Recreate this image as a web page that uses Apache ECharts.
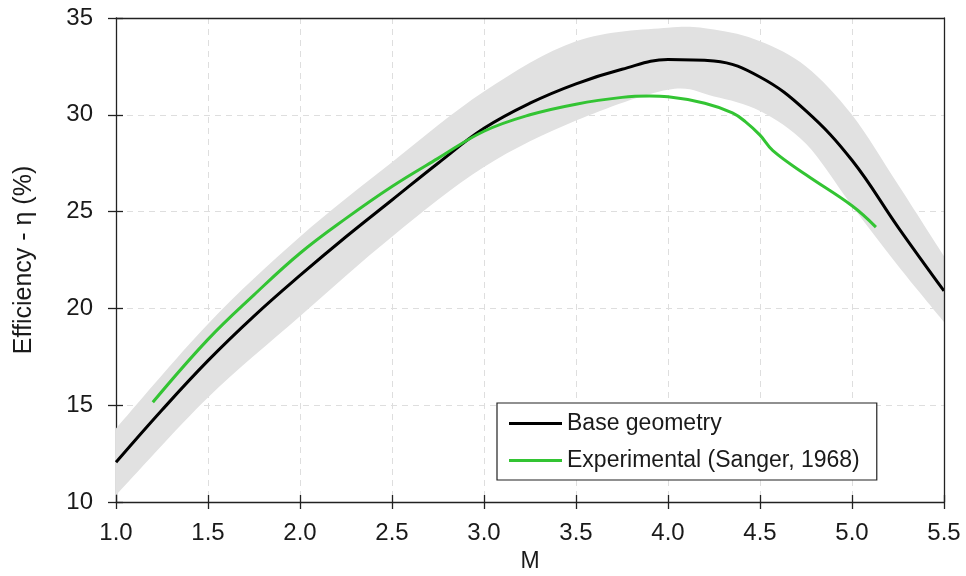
<!DOCTYPE html>
<html lang="en">
<head>
    <meta charset="UTF-8">
    <title>Efficiency vs M</title>
    <script src="https://cdn.jsdelivr.net/npm/echarts@6/dist/echarts.min.js"></script>
    <style>
        html, body { margin: 0; padding: 0; background: #fff; }
        #main { width: 966px; height: 576px; }
    </style>
</head>
<body>
<div id="main"></div>
<script type="text/javascript">
    // base geometry curve
    var baseM   = [1.0, 1.25, 1.5, 1.75, 2.0, 2.25, 2.5, 2.75, 3.0, 3.25, 3.5, 3.75, 4.0, 4.25, 4.5, 4.75, 5.0, 5.25, 5.5];
    var baseEta = [12.05, 14.75, 17.3, 19.6, 21.7, 23.7, 25.6, 27.5, 29.3, 30.6, 31.6, 32.35, 32.86, 32.78, 31.95, 30.2, 27.65, 24.2, 20.9];

    // experimental (Sanger, 1968)
    var expM   = [1.2, 1.5, 1.75, 2.0, 2.25, 2.5, 2.75, 3.0, 3.25, 3.5, 3.75, 3.9, 4.0, 4.2, 4.35, 4.42, 4.5, 4.57, 4.75, 5.0, 5.13];
    var expEta = [15.15, 18.4, 20.7, 22.85, 24.65, 26.3, 27.75, 29.15, 30.0, 30.55, 30.9, 30.97, 30.93, 30.6, 30.1, 29.65, 28.95, 28.15, 26.9, 25.3, 24.2];

    // uncertainty band around base geometry
    var bandM     = [1.0, 1.5, 2.0, 2.5, 3.0, 3.5, 4.0, 4.25, 4.5, 4.75, 5.0, 5.25, 5.5];
    var bandLower = [10.35, 15.4, 19.6, 23.7, 27.3, 29.7, 31.3, 30.95, 30.2, 28.5, 25.3, 22.2, 19.3];
    var bandUpper = [13.8, 19.2, 23.7, 27.55, 31.2, 33.8, 34.5, 34.4, 33.8, 32.5, 30.0, 26.4, 22.7];

    function pairs(xs, ys) {
        return xs.map(function (x, i) { return [x, ys[i]]; });
    }

    // smooth path through pixel points (catmull-rom -> bezier), only for drawing the band outline
    function curvePath(pts, first) {
        var d = (first ? 'M' : 'L') + pts[0][0] + ' ' + pts[0][1];
        for (var i = 0; i < pts.length - 1; i++) {
            var p0 = pts[Math.max(i - 1, 0)], p1 = pts[i], p2 = pts[i + 1], p3 = pts[Math.min(i + 2, pts.length - 1)];
            var c1x = p1[0] + (p2[0] - p0[0]) / 6, c1y = p1[1] + (p2[1] - p0[1]) / 6;
            var c2x = p2[0] - (p3[0] - p1[0]) / 6, c2y = p2[1] - (p3[1] - p1[1]) / 6;
            d += ' C' + c1x + ' ' + c1y + ' ' + c2x + ' ' + c2y + ' ' + p2[0] + ' ' + p2[1];
        }
        return d;
    }

    var myChart = echarts.init(document.getElementById('main'));
    var font = 'Liberation Sans, Arial, sans-serif';
    var ink = '#1a1a1a';
    var dash = { color: '#dedede', type: [6, 5], width: 1 };

    var option = {
        animation: false,
        grid: { left: 116, right: 22, top: 18, bottom: 74, outerBoundsMode: 'none', containLabel: false },
        legend: {
            left: 497, top: 403,
            orient: 'vertical',
            data: ['Base geometry', 'Experimental (Sanger, 1968)'],
            icon: 'rect',
            itemWidth: 53, itemHeight: 3,
            itemGap: 14,
            padding: [9, 17, 8, 12],
            backgroundColor: '#fff',
            borderColor: '#222', borderWidth: 1.2, borderRadius: 0,
            textStyle: { fontFamily: font, fontSize: 23, color: ink }
        },
        xAxis: [
            {
                type: 'value', min: 1.0, max: 5.5, interval: 0.5,
                name: 'M', nameLocation: 'middle', nameGap: 48,
                nameTextStyle: { fontFamily: font, fontSize: 23, color: ink },
                axisLine: { onZero: false, lineStyle: { color: '#222', width: 1.3 } },
                axisTick: { length: 7, lineStyle: { color: '#222', width: 1.3 } },
                axisLabel: {
                    fontFamily: font, fontSize: 24, color: ink, margin: 19,
                    formatter: function (v) { return v.toFixed(1); }
                },
                splitLine: { show: true, showMinLine: false, showMaxLine: false, lineStyle: dash }
            },
            {
                type: 'value', min: 1.0, max: 5.5, interval: 0.5, position: 'bottom',
                axisLine: { show: false },
                axisTick: { show: true, inside: true, length: 7, lineStyle: { color: '#222', width: 1.3 } },
                axisLabel: { show: false }, splitLine: { show: false }
            },
            {
                type: 'value', min: 1.0, max: 5.5, position: 'top', z: 5,
                axisLine: { show: true, onZero: false, lineStyle: { color: '#222', width: 1.3 } },
                axisTick: { show: false }, axisLabel: { show: false }, splitLine: { show: false }
            }
        ],
        yAxis: [
            {
                type: 'value', min: 10, max: 35, interval: 5,
                name: 'Efficiency - \u03b7 (%)', nameLocation: 'middle', nameGap: 79,
                nameTextStyle: { fontFamily: font, fontSize: 25, color: ink },
                axisLine: { show: true, onZero: false, lineStyle: { color: '#222', width: 1.3 } },
                axisTick: { show: true, length: 8, lineStyle: { color: '#222', width: 1.3 } },
                axisLabel: { fontFamily: font, fontSize: 24, color: ink, margin: 23 },
                splitLine: { show: true, showMinLine: false, showMaxLine: false, lineStyle: dash }
            },
            {
                type: 'value', min: 10, max: 35, interval: 5, position: 'left',
                axisLine: { show: false },
                axisTick: { show: true, inside: true, length: 7, lineStyle: { color: '#222', width: 1.3 } },
                axisLabel: { show: false }, splitLine: { show: false }
            },
            {
                type: 'value', min: 10, max: 35, position: 'right', z: 5,
                axisLine: { show: true, onZero: false, lineStyle: { color: '#222', width: 1.3 } },
                axisTick: { show: false }, axisLabel: { show: false }, splitLine: { show: false }
            }
        ],
        series: [
            {
                name: 'band', type: 'custom', silent: true, clip: true, z: 1,
                data: pairs(bandM, bandUpper).concat(pairs(bandM, bandLower)),
                renderItem: function (params, api) {
                    if (params.dataIndex !== 0) return;
                    var up = bandM.map(function (m, i) { return api.coord([m, bandUpper[i]]); });
                    var lo = bandM.map(function (m, i) { return api.coord([m, bandLower[i]]); }).reverse();
                    var d = curvePath(up, true) + ' ' + curvePath(lo, false) + ' Z';
                    return { type: 'path', shape: { pathData: d }, style: { fill: '#e1e1e1' } };
                }
            },
            {
                name: 'Base geometry', type: 'line', smooth: 0.4,
                data: pairs(baseM, baseEta), showSymbol: false,
                color: '#000', lineStyle: { color: '#000', width: 3 }, z: 3
            },
            {
                name: 'Experimental (Sanger, 1968)', type: 'line', smooth: 0.4,
                data: pairs(expM, expEta), showSymbol: false,
                color: '#33c433', lineStyle: { color: '#33c433', width: 3 }, z: 4
            }
        ]
    };

    myChart.setOption(option);
</script>
</body>
</html>
